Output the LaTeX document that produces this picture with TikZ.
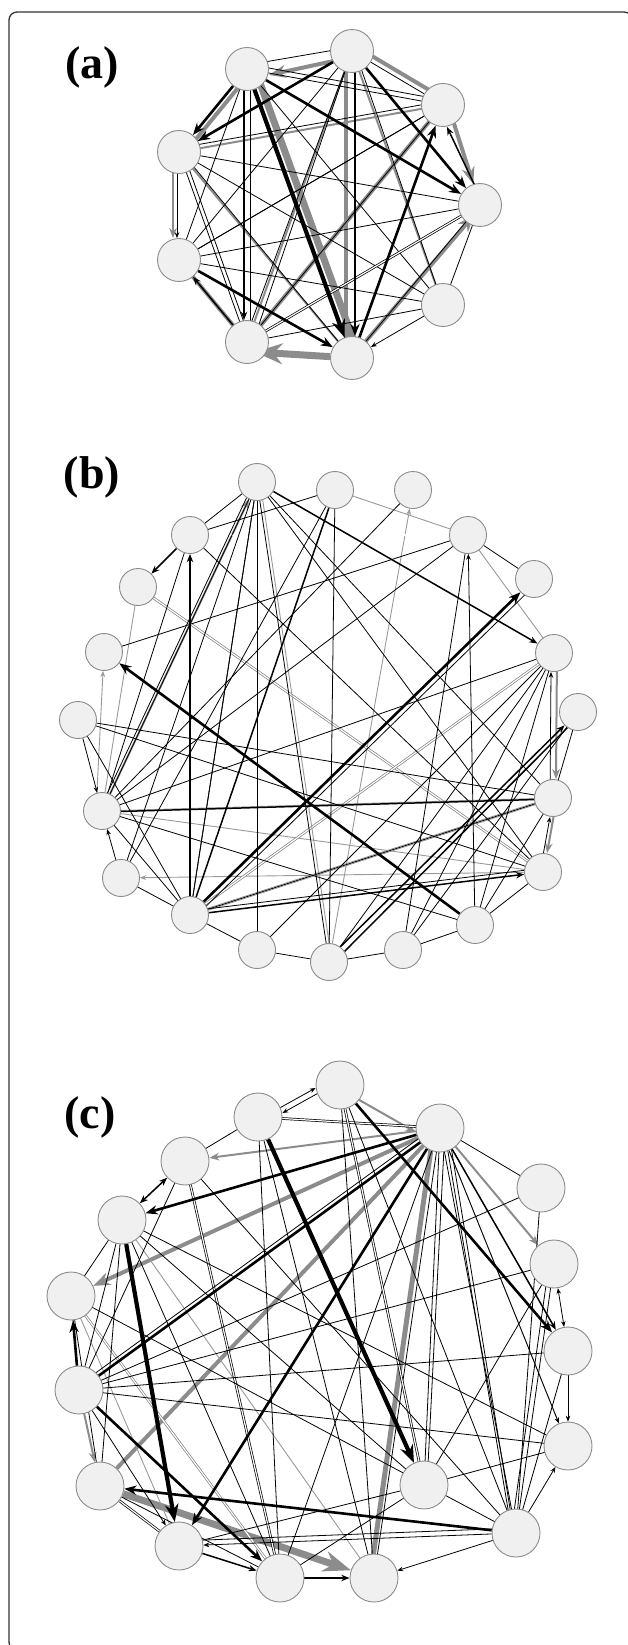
\documentclass[tikz,border=0pt]{standalone}
\usepackage{fontspec}
\setmainfont{Liberation Serif}
\usetikzlibrary{arrows.meta}
\pgfdeclarelayer{bg}
\pgfsetlayers{bg,main}
\tikzset{
  nd/.style={circle, draw=black!45, fill=black!6, line width=0.9pt, inner sep=0pt},
  na/.style={nd, minimum size=43pt},
  nb/.style={nd, minimum size=37pt},
  nc/.style={nd, minimum size=48pt},
  lab/.style={font=\fontsize{46}{46}\selectfont\bfseries, inner sep=0pt},
  e1/.style={draw=black, line width=0.8pt},
  e2/.style={draw=black, line width=1.5pt},
  e3/.style={draw=black, line width=2.6pt},
  e4/.style={draw=black, line width=4.2pt},
  g1/.style={draw=black!40, line width=0.9pt},
  g2/.style={draw=black!45, line width=2pt},
  g3/.style={draw=black!45, line width=4pt},
  g4/.style={draw=black!45, line width=7pt},
  dbl/.style={draw=black, double=white, double distance=1.2pt, line width=0.7pt},
  gdbl/.style={draw=black!50, double=white, double distance=1.2pt, line width=0.7pt},
  >={Stealth[length=3pt 3.5, width=2.5pt 2.6]},
}
\begin{document}
\begin{tikzpicture}[x=1pt,y=-1pt]
\useasboundingbox (0,0) rectangle (627,1645);
\draw[line width=1.3pt, black!80, rounded corners=8pt] (9,12) rectangle (632,1650);

% ---------------- panel (a)
\node[lab] (la) at (92,67) {(a)};
\node[na] (a1) at (352,51) {};
\node[na] (a2) at (247,69) {};
\node[na] (a3) at (443,105) {};
\node[na] (a4) at (179,152) {};
\node[na] (a5) at (480,205) {};
\node[na] (a6) at (179,260) {};
\node[na] (a7) at (443,305) {};
\node[na] (a8) at (247,342) {};
\node[na] (a9) at (352,358) {};
\begin{pgfonlayer}{bg}
% gray
\draw[g4] ([shift={(7,-2.5)}]a2.center) -- ([shift={(7,-2.5)}]a9.center);
\draw[g3] ([xshift=-6pt]a1.center) -- ([xshift=-6pt]a9.center);
\draw[g3,->] ([yshift=-6pt]a1.center) -- ([yshift=-6pt]a2.east);
\draw[g3] ([shift={(3,-5)}]a1.center) -- ([shift={(3,-5)}]a3.center);
\draw[g3,->] ([xshift=5pt]a3.center) -- (a5);
\draw[g3] (a8.center) -- (a3.center);
\draw[g4,->] (a9) -- ([shift={(8,10)}]a8.center);
\draw[g3] (a6.center) -- (a8.center);
\draw[g3,->] ([shift={(-4,4)}]a9.center) -- ([shift={(-6,10)}]a5.center);
\draw[g2,->] ([xshift=-6pt]a4.center) -- ([xshift=-6pt]a6.north);
\draw[g3] ([shift={(4,3)}]a2.center) -- ([shift={(4,3)}]a4.center);
\draw[g2] (a1.center) -- (a7.center);
\draw[g2] (a4.center) -- (a3.center);
\draw[g2] (a1.center) -- (a8.center);
\draw[g2] (a5.center) -- (a8.center);
\draw[g2] (a4.center) -- (a9.center);
% thin black
\draw[e1] (a1) -- (a3);
\draw[e1] ([yshift=4pt]a1.center) -- ([yshift=4pt]a2.center);
\draw[e1] (a1.center) -- ([xshift=6pt]a8.center);
\draw[e1] (a1.center) -- ([xshift=-3pt]a8.center);
\draw[e1] (a1.center) -- (a6.center);
\draw[e1] ([xshift=3pt]a1.center) -- (a7.center);
\draw[e1] (a2.center) -- (a3.center);
\draw[e1] ([yshift=5pt]a2.center) -- ([yshift=5pt]a3.center);
\draw[e1] (a2.center) -- (a7.center);
\draw[e1] (a2.center) -- (a6.center);
\draw[e1] ([yshift=4pt]a4.center) -- ([yshift=4pt]a3.center);
\draw[e1] (a4.center) -- (a5.center);
\draw[e1,->] ([xshift=-2pt]a4.south) -- ([xshift=-2pt]a6.north);
\draw[e1] (a4.center) -- (a7.center);
\draw[e1] (a4.center) -- (a8.center);
\draw[e1] ([xshift=4pt]a4.center) -- ([xshift=4pt]a8.center);
\draw[e1] ([yshift=3pt]a4.center) -- (a9.center);
\draw[e1] (a6.center) -- (a3.center);
\draw[e1] (a6.center) -- (a5.center);
\draw[e1] (a7.center) -- (a8.center);
\draw[e1,->] (a7) -- (a9);
\draw[e1] (a5.center) -- (a7.center);
\draw[dbl] (a5.center) -- (a8.center);
\draw[e1] (a3.center) -- (a8.center);
\draw[e1] (a3.center) -- (a6.center);
\draw[e1] (a5.center) -- (a9.center);
\draw[e1] (a2.center) -- (a9.center);
\draw[e1] (a6.center) -- (a7.center);
\draw[e1] (a1.center) -- (a4.center);
% heavy black
\draw[e2,->] ([xshift=-3pt]a2.center) -- ([xshift=-3pt]a8.north);
\draw[e1] ([xshift=3pt]a2.center) -- ([xshift=3pt]a8.center);
\draw[e2,->] (a8) -- (a6);
\draw[e2,->] ([xshift=4pt]a5.center) -- ([xshift=4pt]a3.south);
\draw[e4,->] (a2) -- (a9);
\draw[e3,->] ([xshift=3pt]a1.center) -- ([xshift=3pt]a9.north);
\draw[e3,->] (a1) -- (a4);
\draw[e3,->] (a2) -- (a4);
\draw[e3,->] (a1) -- (a5);
\draw[e3,->] (a2) -- (a5);
\draw[e3,->] (a9) -- (a3);
\draw[e3,->] (a6) -- (a9);
\end{pgfonlayer}

% ---------------- panel (b)
\node[lab] (lb) at (92,477) {(b)};
\node[nb] (b1) at (257,482) {};
\node[nb] (b2) at (335,490) {};
\node[nb] (b3) at (413,490) {};
\node[nb] (b4) at (190,535) {};
\node[nb] (b5) at (468,535) {};
\node[nb] (b6) at (534,579) {};
\node[nb] (b7) at (138,587) {};
\node[nb] (b8) at (104,652) {};
\node[nb] (b9) at (554,653) {};
\node[nb] (b10) at (78,720) {};
\node[nb] (b11) at (578,712) {};
\node[nb] (b12) at (102,811) {};
\node[nb] (b13) at (553,798) {};
\node[nb] (b14) at (121,878) {};
\node[nb] (b15) at (543,872) {};
\node[nb] (b16) at (190,915) {};
\node[nb] (b17) at (475,925) {};
\node[nb] (b18) at (257,950) {};
\node[nb] (b19) at (329,962) {};
\node[nb] (b20) at (403,950) {};
\begin{pgfonlayer}{bg}
% gray
\draw[g2,->] (b12) -- (b1);
\draw[g1,->] ([xshift=-6pt]b12.center) -- (b8);
\draw[g1] (b12.center) -- (b7.center);
\draw[g1] (b2.center) -- (b5.center);
\draw[g1,->] (b19) -- (b3);
\draw[g1] (b5.center) -- (b9.center);
\draw[g2,->] ([xshift=3pt]b9.center) -- ([xshift=3pt]b13.north);
\draw[g2,->] ([xshift=4pt]b13.center) -- ([xshift=4pt]b15.north);
\draw[g1,->] (b15) -- (b14);
\draw[g1] (b12.center) -- (b15.center);
\draw[gdbl] (b13.center) -- (b16.center);
\draw[gdbl] (b4.center) -- (b5.center);
\draw[gdbl] (b7.center) -- (b15.center);
\draw[gdbl] (b16.center) -- (b9.center);
\draw[g1] ([xshift=3pt]b1.center) -- ([xshift=3pt]b19.center);
\draw[g1] (b12.center) -- (b13.center);
% thin black
\draw[e1] (b1.center) -- (b4.center);
\draw[e1] (b4.center) -- (b2.center);
\draw[e1] ([shift={(-3,0)}]b12.center) -- ([shift={(-3,0)}]b1.center);
\draw[e1] (b1.center) -- (b12.center);
\draw[e1] (b1.center) -- (b14.center);
\draw[e1] (b1.center) -- (b16.center);
\draw[e1] (b1.center) -- (b18.center);
\draw[e1] (b1.center) -- (b19.center);
\draw[e1] (b1.center) -- (b15.center);
\draw[e1] (b1.center) -- (b13.center);
\draw[e1] (b2.center) -- (b19.center);
\draw[e1] (b4.center) -- (b12.center);
\draw[e1] (b5.center) -- (b8.center);
\draw[e1] (b5.center) -- (b12.center);
\draw[e1,->] (b17) -- (b5);
\draw[e1] (b5.center) -- (b6.center);
\draw[e1] (b4.center) -- (b15.center);
\draw[e1] (b9.center) -- (b12.center);
\draw[e1] (b9.center) -- (b17.center);
\draw[e1] (b9.center) -- (b20.center);
\draw[e1] (b9.center) -- (b19.center);
\draw[e1] (b11.center) -- (b13.center);
\draw[e1] (b11.center) -- (b20.center);
\draw[e1,->] ([xshift=-3pt]b15.center) -- ([xshift=-3pt]b13.south);
\draw[e1,->] ([xshift=-3pt]b13.center) -- ([xshift=-3pt]b9.south);
\draw[e1,->] (b14) -- (b12);
\draw[e1,->] (b10) -- (b12);
\draw[e1] (b10.center) -- (b16.center);
\draw[e1] (b10.center) -- (b15.center);
\draw[e1] (b12.center) -- (b17.center);
\draw[e1] (b12.center) -- (b16.center);
\draw[e1] (b14.center) -- (b16.center);
\draw[e1] (b16.center) -- (b18.center);
\draw[e1] (b18.center) -- (b19.center);
\draw[e1] (b19.center) -- (b20.center);
\draw[e1] (b20.center) -- (b17.center);
\draw[e1] (b17.center) -- (b15.center);
\draw[e1] (b17.center) -- (b13.center);
\draw[e1] (b14.center) -- (b2.center);
\draw[e1] (b16.center) -- (b1.center);
\draw[e1] (b16.center) -- (b13.center);
\draw[e1] (b18.center) -- (b9.center);
\draw[e1] (b20.center) -- (b5.center);
\draw[e1] (b12.center) -- (b3.center);
\draw[e1] (b10.center) -- (b13.center);
% heavy black
\draw[e3,->] (b17) -- (b8);
\draw[e3,->] (b16) -- (b6);
\draw[e1] ([shift={(4,3)}]b16.center) -- ([shift={(4,3)}]b6.center);
\draw[e2,->] (b1) -- (b9);
\draw[e2,->] (b4) -- (b7);
\draw[e2,->] ([shift={(-2,-2)}]b19.center) -- (b11);
\draw[e2] ([shift={(3,2)}]b19.center) -- ([shift={(3,2)}]b11.center);
\draw[e2,->] (b16) -- (b15);
\draw[e1] ([yshift=4pt]b16.center) -- ([yshift=4pt]b15.center);
\draw[e2] ([yshift=-1pt]b12.center) -- ([yshift=-1pt]b13.center);
\draw[e2] (b2.center) -- (b16.center);
\draw[e2,->] (b16) -- (b4);
\end{pgfonlayer}

% ---------------- panel (c)
\node[lab] (lc) at (90,1117) {(c)};
\node[nc] (c1) at (340,1085) {};
\node[nc] (c2) at (258,1117) {};
\node[nc] (c3) at (440,1128) {};
\node[nc] (c4) at (185,1161) {};
\node[nc] (c5) at (541,1188) {};
\node[nc] (c6) at (122,1220) {};
\node[nc] (c7) at (554,1264) {};
\node[nc] (c8) at (71,1296) {};
\node[nc] (c9) at (568,1351) {};
\node[nc] (c10) at (79,1390) {};
\node[nc] (c11) at (568,1446) {};
\node[nc] (c12) at (100,1486) {};
\node[nc] (c13) at (424,1485) {};
\node[nc] (c14) at (516,1533) {};
\node[nc] (c15) at (179,1546) {};
\node[nc] (c16) at (280,1578) {};
\node[nc] (c17) at (374,1578) {};
\begin{pgfonlayer}{bg}
% gray
\draw[g2,->] ([yshift=-4pt]c1.center) -- ([yshift=-4pt]c3.west);
\draw[g2,->] (c3) -- (c4);
\draw[g3,->] (c3) -- (c8);
\draw[g3] (c3.center) -- (c12.center);
\draw[g3,line width=5pt] ([xshift=-6pt]c3.center) -- ([xshift=-4pt]c17.center);
\draw[g2,->] (c3) -- (c7);
\draw[g2,->] (c10) -- (c12);
\draw[g4,->] (c12) -- (c17);
\draw[gdbl] (c8.center) -- (c16.center);
\draw[g1] (c8.center) -- (c15.center);
\draw[g1] (c6.center) -- (c17.center);
\draw[g1] (c3.center) -- (c11.center);
% thin black
\draw[e1,->] ([yshift=4pt]c1.center) -- ([yshift=4pt]c2.east);
\draw[e1,->] ([yshift=-3pt]c2.center) -- ([yshift=-3pt]c1.west);
\draw[dbl] (c3.center) -- (c2.center);
\draw[e1] (c2.center) -- (c4.center);
\draw[e1] (c6.center) -- (c8.center);
\draw[e1] (c3.center) -- (c5.center);
\draw[e1,->] (c3) -- (c11);
\draw[e1] (c3.center) -- (c13.center);
\draw[e1] ([xshift=5pt]c3.center) -- ([xshift=3pt]c13.center);
\draw[e1] (c3.center) -- (c14.center);
\draw[e1] ([xshift=4pt]c3.center) -- ([xshift=-4pt]c14.center);
\draw[e1] ([xshift=8pt]c3.center) -- ([xshift=-2pt]c14.center);
\draw[e1] (c3.center) -- (c16.center);
\draw[e1] (c3.center) -- (c17.center);
\draw[dbl] (c1.center) -- (c13.center);
\draw[e1] (c1.center) -- (c17.center);
\draw[e1] (c2.center) -- (c17.center);
\draw[dbl] (c4.center) -- (c16.center);
\draw[e1] (c4.center) -- (c14.center);
\draw[e1] (c5.center) -- (c10.center);
\draw[e1] (c6.center) -- (c12.center);
\draw[e1] (c6.center) -- (c13.center);
\draw[e1] (c6.center) -- (c11.center);
\draw[e1] (c6.center) -- (c16.center);
\draw[e1] (c8.center) -- (c14.center);
\draw[e1] (c10.center) -- (c9.center);
\draw[e1] (c10.center) -- (c7.center);
\draw[e1] (c10.center) -- (c11.center);
\draw[e1,->] (c10) -- (c15);
\draw[dbl] (c12.center) -- (c15.center);
\draw[e1,->] (c14) -- (c17);
\draw[e1,->] (c14) -- (c15);
\draw[e1] ([yshift=5pt]c14.center) -- ([yshift=5pt]c15.center);
\draw[e1] (c13.center) -- (c15.center);
\draw[e1] (c13.center) -- (c11.center);
\draw[e1] (c13.center) -- (c7.center);
\draw[e1] (c14.center) -- (c9.center);
\draw[e1,->] (c14) -- (c11);
\draw[e1] (c14.center) -- (c7.center);
\draw[e1] ([xshift=-5pt]c14.center) -- ([xshift=-5pt]c7.center);
\draw[e1,->] (c9) -- (c11);
\draw[e1,<->] (c7) -- (c9);
\draw[e1] (c12.center) -- (c16.center);
\draw[e1] (c8.center) -- (c12.center);
\draw[e1] (c6.center) -- (c10.center);
\draw[e1] (c8.center) -- (c10.center);
\draw[e1] (c2.center) -- (c16.center);
\draw[e1] (c1.center) -- (c14.center);
\draw[e1] (c4.center) -- (c10.center);
\draw[e1] (c5.center) -- (c14.center);
\draw[e1] (c16.center) -- (c13.center);
% heavy black
\draw[e3,->] (c3) -- (c6);
\draw[e3] (c3.center) -- (c10.center);
\draw[e1] ([yshift=5pt]c3.center) -- ([yshift=5pt]c10.center);
\draw[e3,->] (c3) -- (c15);
\draw[e3,->] (c1) -- (c9);
\draw[e2,->] (c3) -- (c9);
\draw[e4,->] (c2) -- (c13);
\draw[e4,->] (c6) -- (c15);
\draw[e3,->] (c14) -- (c12);
\draw[e3,->] (c10) -- (c16);
\draw[e3,->] (c10) -- (c8);
\draw[e2,<->] (c4) -- (c6);
\draw[e2,->] (c15) -- (c16);
\draw[e2,->] (c16) -- (c17);
\end{pgfonlayer}
\end{tikzpicture}
\end{document}
